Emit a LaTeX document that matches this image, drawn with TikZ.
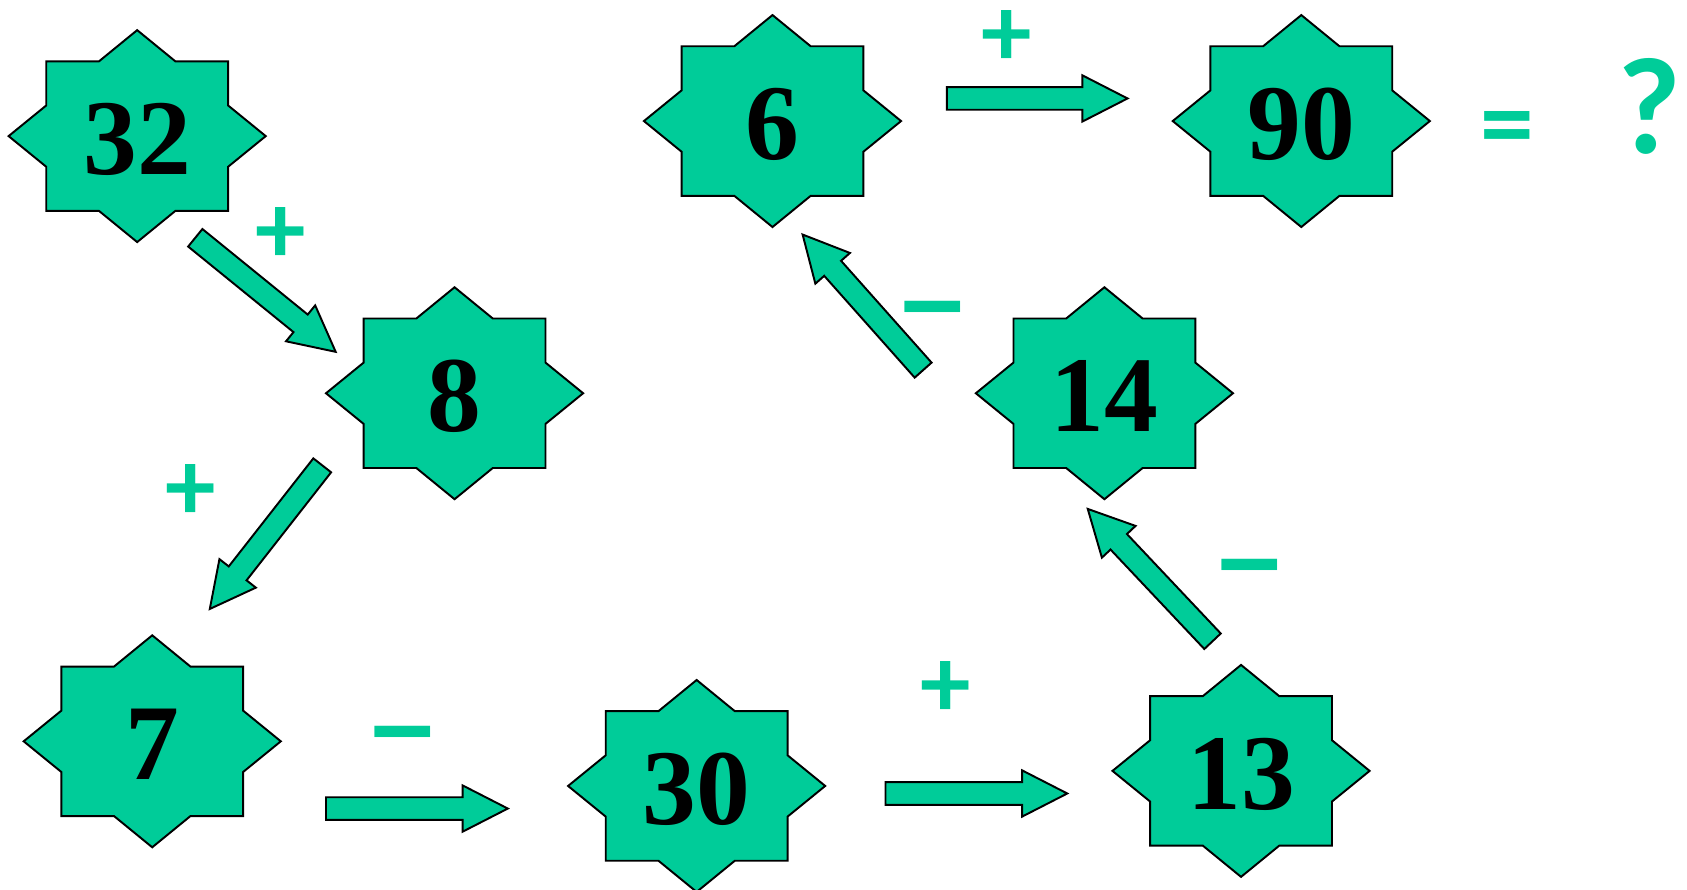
\documentclass[tikz,border=0pt]{standalone}
\usepackage{fontspec}
\setmainfont{Liberation Serif}
\newfontfamily\signfont{Carlito}
\usetikzlibrary{calc,backgrounds}
\definecolor{tealgreen}{RGB}{0,204,153}
\newcommand\shw{5.25pt}
\newcommand\hhw{10.75pt}
\newcommand\hlen{21pt}
\newcommand\blockarrow[2]{%
  \coordinate (#1-h) at ($(#2)!\hlen!(#1)$);
  \draw[barrow] ($(#1)!\shw!90:(#2)$) -- ($(#1-h)!\shw!90:(#2)$)
    -- ($(#1-h)!\hhw!90:(#2)$) -- (#2) -- ($(#1-h)!\hhw!-90:(#2)$)
    -- ($(#1-h)!\shw!-90:(#2)$) -- ($(#1)!\shw!-90:(#2)$) -- cycle;}
\newcommand\starback[1]{%
  \begin{scope}[on background layer,shift={(#1)}]
  \draw[starline] (0,-98.5) -- (35.5,-69.5) -- (84.5,-69.5) -- (84.5,-28.5)
    -- (119.5,0) -- (84.5,28.5) -- (84.5,69.5) -- (35.5,69.5) -- (0,98.5)
    -- (-35.5,69.5) -- (-84.5,69.5) -- (-84.5,28.5) -- (-119.5,0)
    -- (-84.5,-28.5) -- (-84.5,-69.5) -- (-35.5,-69.5) -- cycle;
  \end{scope}}
\tikzset{
  starline/.style={fill=tealgreen,draw=black,line width=0.9pt,line join=miter},
  barrow/.style={fill=tealgreen,draw=black,line width=0.9pt,line join=miter},
  num/.style={inner sep=0pt,yshift=-1.5pt,font=\fontsize{50}{50}\bfseries\selectfont},
  plussign/.style={inner sep=0pt,text=tealgreen,font=\signfont\fontsize{47}{47}\bfseries\selectfont},
  minussign/.style={inner sep=0pt,xscale=1.22,text=tealgreen,font=\signfont\fontsize{60}{60}\bfseries\selectfont},
  eqsign/.style={inner sep=0pt,text=tealgreen,font=\signfont\fontsize{50}{50}\bfseries\selectfont},
  qsign/.style={inner sep=0pt,text=tealgreen,font=\signfont\fontsize{64}{64}\bfseries\selectfont},
}
\begin{document}
\begin{tikzpicture}[x=0.5pt,y=-0.5pt]
\useasboundingbox (0,0) rectangle (1568,826.3);
% star centres
\coordinate (s32) at (127.5,126.5);
\coordinate (s6) at (718,112.5);
\coordinate (s90) at (1209.5,112.5);
\coordinate (s8) at (422.5,365.5);
\coordinate (s14) at (1026.5,365.5);
\coordinate (s7) at (141.5,689);
\coordinate (s30) at (647.5,730.5);
\coordinate (s13) at (1153.5,716.5);
\foreach \s in {s32,s6,s90,s8,s14,s7,s30,s13} {\starback{\s}}
\node[num] (n32) at (s32) {32};
\node[num] (n6) at (s6) {6};
\node[num] (n90) at (s90) {90};
\node[num] (n8) at (s8) {8};
\node[num] (n14) at (s14) {14};
\node[num] (n7) at (s7) {7};
\node[num] (n30) at (s30) {30};
\node[num] (n13) at (s13) {13};
% arrows
\coordinate (a1) at (181.5,221);  \coordinate (b1) at (312,327);
\coordinate (a2) at (299.5,432.5); \coordinate (b2) at (195,566);
\coordinate (a3) at (303,751.5);  \coordinate (b3) at (472,751.5);
\coordinate (a4) at (823,737.5);  \coordinate (b4) at (992,737.5);
\coordinate (a5) at (1127,596);   \coordinate (b5) at (1011,473);
\coordinate (a6) at (858,344);    \coordinate (b6) at (746,218);
\coordinate (a7) at (880,91.5);   \coordinate (b7) at (1048,91.5);
\blockarrow{a1}{b1}
\blockarrow{a2}{b2}
\blockarrow{a3}{b3}
\blockarrow{a4}{b4}
\blockarrow{a5}{b5}
\blockarrow{a6}{b6}
\blockarrow{a7}{b7}
% signs
\node[plussign] (p1) at (936,36) {+};
\node[plussign] (p2) at (261,218.5) {+};
\node[plussign] (p3) at (177,458) {+};
\node[plussign] (p4) at (879,640.5) {+};
\node[minussign] (m1) at (866.5,299.5) {–};
\node[minussign] (m2) at (1162,539.5) {–};
\node[minussign] (m3) at (374,694.5) {–};
\node[eqsign] (eq) at (1400.5,126) {=};
\node[qsign] (qm) at (1533.5,98.5) {?};
\end{tikzpicture}
\end{document}
